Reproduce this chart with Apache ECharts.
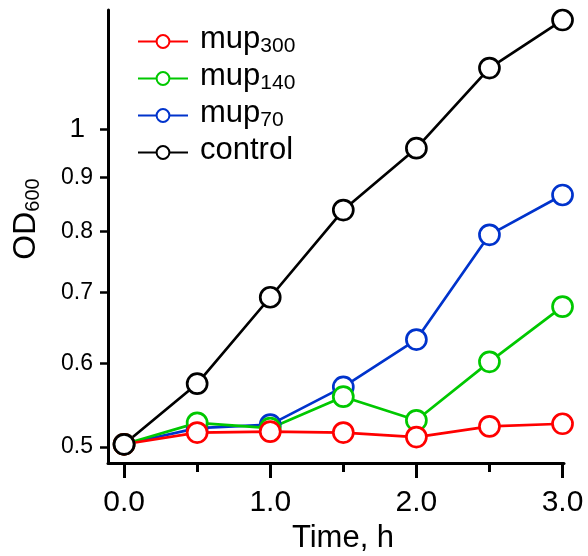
<!DOCTYPE html>
<html><head><meta charset="utf-8">
<script src="https://cdn.jsdelivr.net/npm/echarts@6/dist/echarts.min.js"></script>
<style>html,body{margin:0;padding:0;background:#fff}#c{width:588px;height:556px}</style>
</head><body><div id="c"></div>
<script>
const times = [0, 0.5, 1.0, 1.5, 2.0, 2.5, 3.0];
const mup300 = [0.503, 0.516, 0.517, 0.516, 0.511, 0.523, 0.526];
const mup140 = [0.503, 0.527, 0.521, 0.558, 0.530, 0.602, 0.679];
const mup70 = [0.503, 0.521, 0.525, 0.570, 0.632, 0.794, 0.866];
const control = [0.503, 0.574, 0.693, 0.838, 0.959, 1.142, 1.268];
const xMajorTicks = [0, 1, 2, 3];
const xMinorTicks = [0.5, 1.5, 2.5];
const yTicks = [0.5, 0.6, 0.7, 0.8, 0.9, 1];
const legendOrder = ['mup300', 'mup140', 'mup70', 'control'];
const subs = { mup300: '300', mup140: '140', mup70: '70', control: '' };
const colors = { mup300: '#ff0000', mup140: '#00c800', mup70: '#0033cc', control: '#000000' };
const values = { mup300, mup140, mup70, control };
const drawOrder = ['mup70', 'mup140', 'mup300', 'control'];

const FONT = 'Liberation Sans, Arial, Helvetica, sans-serif';
const chart = echarts.init(document.getElementById('c'), null, { renderer: 'canvas' });

const series = drawOrder.map(name => ({
  name,
  type: 'line',
  xAxisIndex: 0,
  yAxisIndex: 0,
  data: times.map((t, i) => [t, values[name][i]]),
  symbol: 'circle',
  symbolSize: 20,
  itemStyle: { color: '#fff', borderColor: colors[name], borderWidth: 2.7 },
  lineStyle: { color: colors[name], width: 2.7 },
  emphasis: { disabled: true },
  animation: false
}));

const option = {
  animation: false,
  backgroundColor: '#fff',
  textStyle: { fontFamily: FONT, color: '#000' },
  grid: { left: 108, top: 10, right: 24, bottom: 93, containLabel: false, outerBoundsMode: 'none' },
  legend: {
    data: legendOrder,
    orient: 'vertical',
    left: 137,
    top: 23.5,
    padding: 0,
    itemWidth: 50,
    itemHeight: 16,
    itemGap: 1,
    selectedMode: false,
    formatter: name => subs[name] ? '{a|mup}{s|' + subs[name] + '}' : '{a|' + name + '}',
    textStyle: {
      fontFamily: FONT, color: '#000',
      rich: {
        a: { fontSize: 31, lineHeight: 30, padding: [0, 0, 5, 7], fontFamily: FONT, color: '#000' },
        s: { fontSize: 21, lineHeight: 19, verticalAlign: 'bottom', fontFamily: FONT, color: '#000' }
      }
    }
  },
  xAxis: [
    {
      type: 'value', min: -0.11, max: 3.01, position: 'bottom',
      axisLine: { show: true, onZero: false, lineStyle: { color: '#000', width: 3 } },
      axisTick: { show: true, customValues: xMajorTicks, length: 15, lineStyle: { color: '#000', width: 3 } },
      axisLabel: { customValues: xMajorTicks, margin: 25, fontSize: 30, lineHeight: 30, color: '#000', fontFamily: FONT,
        formatter: v => v.toFixed(1) },
      splitLine: { show: false },
      name: 'Time, h', nameLocation: 'middle', nameGap: 58,
      nameTextStyle: { fontSize: 31, lineHeight: 31, color: '#000', fontFamily: FONT, padding: [0, 0, 0, 14] }
    },
    {
      type: 'value', min: -0.11, max: 3.01, position: 'bottom', gridIndex: 0,
      axisLine: { show: false, onZero: false },
      axisTick: { show: true, customValues: xMinorTicks, length: 9, lineStyle: { color: '#000', width: 3 } },
      axisLabel: { show: false },
      splitLine: { show: false }
    }
  ],
  yAxis: {
    type: 'log', min: 0.4829, max: 1.296,
    axisLine: { show: true, onZero: false, lineStyle: { color: '#000', width: 3 } },
    axisTick: { show: true, customValues: yTicks, length: 8, lineStyle: { color: '#000', width: 2.5 } },
    axisLabel: {
      customValues: yTicks, margin: 15, color: '#000', fontFamily: FONT,
      formatter: v => Math.abs(v - 1) < 1e-9 ? '{b|1}' : '{n|' + Number(v).toFixed(1) + '}',
      rich: {
        b: { fontSize: 28, padding: [0, 8, 0, 0], fontFamily: FONT, color: '#000' },
        n: { fontSize: 23, fontFamily: FONT, color: '#000' }
      }
    },
    splitLine: { show: false },
    minorTick: { show: false },
    name: '{a|OD}{s|600}', nameLocation: 'middle', nameRotate: 90, nameGap: 65,
    nameTextStyle: {
      fontFamily: FONT, color: '#000',
      rich: {
        a: { fontSize: 32, lineHeight: 34, padding: [0, 0, 0, 35], fontFamily: FONT, color: '#000' },
        s: { fontSize: 20, lineHeight: 12, verticalAlign: 'bottom', fontFamily: FONT, color: '#000' }
      }
    }
  },
  series
};
chart.setOption(option);
</script>
</body></html>
